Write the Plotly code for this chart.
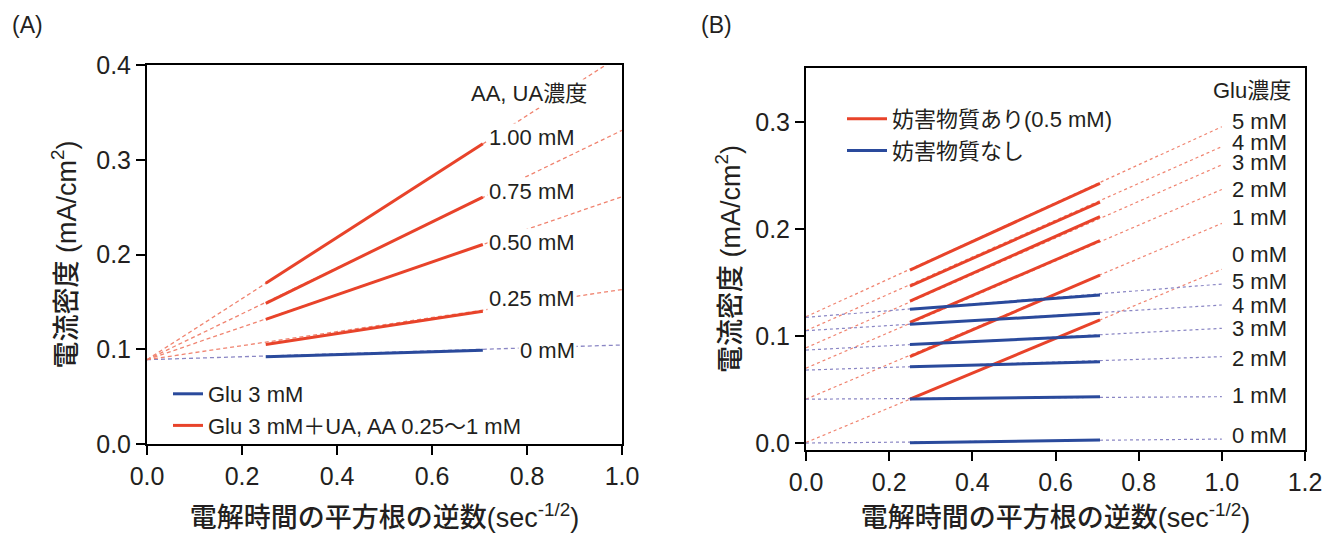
import plotly.graph_objects as go

# ---------------- data: panel (A) ----------------
conc_A = ["0 mM", "0.25 mM", "0.50 mM", "0.75 mM", "1.00 mM"]   # AA, UA concentration
x_meas = [0.25, 0.707]                                        # measured range of 1/sqrt(t)
A_start = [0.092, 0.105, 0.1315, 0.1485, 0.1696]               # current density at x=0.25
A_end = [0.099, 0.140, 0.2106, 0.2606, 0.317]                  # current density at x=0.707
x_fit = [0.0, 1.0]
A_fit0 = [0.089, 0.089, 0.089, 0.089, 0.089]                   # extrapolated line at x=0
A_fit1 = [0.1045, 0.163, 0.261, 0.331, 0.411]                  # extrapolated line at x=1

# ---------------- data: panel (B) ----------------
glu_B = ["0 mM", "1 mM", "2 mM", "3 mM", "4 mM", "5 mM"]        # Glu concentration
red_start = [0.0411, 0.0807, 0.1128, 0.1327, 0.1467, 0.1617]   # with interferents (0.5 mM)
red_end = [0.115, 0.157, 0.1891, 0.2115, 0.2252, 0.2427]
red_fit0 = [0.0005, 0.041, 0.070, 0.089, 0.105, 0.118]
red_fit1 = [0.1624, 0.2053, 0.237, 0.260, 0.277, 0.2956]
blue_start = [0.0003, 0.0411, 0.0713, 0.0922, 0.111, 0.125]    # without interferents
blue_end = [0.0028, 0.0433, 0.076, 0.1003, 0.1212, 0.1383]
blue_fit0 = [0.0, 0.041, 0.0682, 0.0869, 0.105, 0.1175]
blue_fit1 = [0.0037, 0.0433, 0.0807, 0.1072, 0.129, 0.1486]

# ---------------- styles ----------------
RED = "#e8432a"
BLUE = "#2a4a9c"
RED_D = "#f08470"
BLUE_D = "#8a86c4"
INK = "#231f20"
FONT = "Liberation Sans, Arial, Noto Sans CJK JP, sans-serif"

fig = go.Figure()

# panel A
for i, lab in enumerate(conc_A):
    dcol = BLUE_D if i == 0 else RED_D
    fig.add_trace(go.Scatter(x=x_fit, y=[A_fit0[i], A_fit1[i]], mode="lines",
                             line=dict(color=dcol, width=1.3, dash="4px,3px"),
                             showlegend=False, hoverinfo="skip", xaxis="x", yaxis="y"))
for i, lab in enumerate(conc_A):
    col = BLUE if i == 0 else RED
    name = "Glu 3 mM" if i == 0 else "Glu 3 mM＋UA, AA 0.25〜1 mM"
    fig.add_trace(go.Scatter(x=x_meas, y=[A_start[i], A_end[i]], mode="lines",
                             line=dict(color=col, width=3),
                             name=name, legendgroup="a%d" % min(i, 1),
                             showlegend=(i <= 1), legend="legend",
                             xaxis="x", yaxis="y"))

# panel B
for i in range(len(glu_B)):
    fig.add_trace(go.Scatter(x=x_fit, y=[red_fit0[i], red_fit1[i]], mode="lines",
                             line=dict(color=RED_D, width=1.2, dash="dot"),
                             showlegend=False, hoverinfo="skip", xaxis="x2", yaxis="y2"))
    fig.add_trace(go.Scatter(x=x_fit, y=[blue_fit0[i], blue_fit1[i]], mode="lines",
                             line=dict(color=BLUE_D, width=1.2, dash="dot"),
                             showlegend=False, hoverinfo="skip", xaxis="x2", yaxis="y2"))
for i in range(len(glu_B)):
    fig.add_trace(go.Scatter(x=x_meas, y=[red_start[i], red_end[i]], mode="lines",
                             line=dict(color=RED, width=3),
                             name="妨害物質あり(0.5 mM)", legendgroup="bred",
                             showlegend=(i == 0), legend="legend2",
                             xaxis="x2", yaxis="y2"))
for i in range(len(glu_B)):
    fig.add_trace(go.Scatter(x=x_meas, y=[blue_start[i], blue_end[i]], mode="lines",
                             line=dict(color=BLUE, width=3),
                             name="妨害物質なし", legendgroup="bblue",
                             showlegend=(i == 0), legend="legend2",
                             xaxis="x2", yaxis="y2"))

W, H = 1325, 533
axis_common = dict(showline=True, linecolor="black", linewidth=2, mirror=True,
                   ticks="outside", ticklen=9, tickwidth=2, tickcolor="black",
                   showgrid=False, zeroline=False, tickformat=".1f", automargin=False,
                   tickfont=dict(size=25, color=INK, family=FONT))
title_font = dict(size=27, color=INK, family=FONT, weight=500)
lab_font = dict(size=22, color=INK, family=FONT)
XTITLE = "電解時間の平方根の逆数(sec<sup>-1/2</sup>)"
YTITLE = "電流密度 (mA/cm<sup>2</sup>)"

ann = []
# A labels
A_shift = [0, 13, 2, 6, 6]
for i, lab in enumerate(conc_A):
    ann.append(dict(x=0.905, y=A_end[i], xref="x", yref="y", text=lab, xanchor="right",
                    yanchor="middle", yshift=A_shift[i], showarrow=False,
                    bgcolor="white", borderpad=1, font=lab_font))
ann.append(dict(x=0.677, y=0.370, xref="x", yref="y", text="AA, UA濃度", xanchor="left",
                yanchor="middle", showarrow=False, bgcolor="white", font=lab_font))
# B labels
red_shift = [15, 6, 0, 2, 4, 5]
blue_shift = [4, 1, -2, 0, 0, 3]
for i, lab in enumerate(glu_B):
    ann.append(dict(x=1.02, y=red_fit1[i], xref="x2", yref="y2", text=lab, xanchor="left",
                    yanchor="middle", yshift=red_shift[i], showarrow=False, font=lab_font))
    ann.append(dict(x=1.02, y=blue_fit1[i], xref="x2", yref="y2", text=lab, xanchor="left",
                    yanchor="middle", yshift=blue_shift[i], showarrow=False, font=lab_font))
ann.append(dict(x=1.172, y=0.3293, xref="x2", yref="y2", text="Glu濃度", xanchor="right",
                yanchor="middle", showarrow=False, font=lab_font))
# panel titles
ann.append(dict(x=10 / W, y=1 - 25 / H, xref="paper", yref="paper", text="(A)",
                xanchor="left", yanchor="middle", showarrow=False,
                font=dict(size=23, color=INK, family=FONT)))
ann.append(dict(x=699 / W, y=1 - 25 / H, xref="paper", yref="paper", text="(B)",
                xanchor="left", yanchor="middle", showarrow=False,
                font=dict(size=23, color=INK, family=FONT)))

fig.update_layout(
    width=W, height=H,
    margin=dict(l=0, r=0, t=0, b=0),
    paper_bgcolor="white", plot_bgcolor="white",
    font=dict(family=FONT, color=INK),
    xaxis=dict(domain=[147 / W, 622 / W], range=[0, 1.0], dtick=0.2, tick0=0,
               title=dict(text=XTITLE, font=title_font, standoff=19),
               anchor="y", **axis_common),
    yaxis=dict(domain=[1 - 444 / H, 1 - 65 / H], range=[0, 0.4], dtick=0.1, tick0=0,
               title=dict(text=YTITLE, font=title_font, standoff=12),
               anchor="x", **axis_common),
    xaxis2=dict(domain=[806 / W, 1305 / W], range=[0, 1.2], dtick=0.2, tick0=0,
                title=dict(text=XTITLE, font=title_font, standoff=17),
                anchor="y2", **axis_common),
    yaxis2=dict(domain=[1 - 450 / H, 1 - 68 / H], range=[-0.0065, 0.3505], dtick=0.1, tick0=0,
                title=dict(text=YTITLE, font=title_font, standoff=7),
                anchor="x2", **axis_common),
    legend=dict(x=168 / W, y=1 - 373 / H, xanchor="left", yanchor="top",
                bgcolor="rgba(0,0,0,0)", font=lab_font, tracegroupgap=0),
    legend2=dict(x=842 / W, y=1 - 98 / H, xanchor="left", yanchor="top",
                 bgcolor="rgba(0,0,0,0)", font=lab_font, tracegroupgap=0, itemwidth=40),
    annotations=ann,
    showlegend=True,
)

fig.write_html("out.html", config={"displayModeBar": False},
               post_script="document.body.style.margin='0px';document.body.style.padding='0px';")
